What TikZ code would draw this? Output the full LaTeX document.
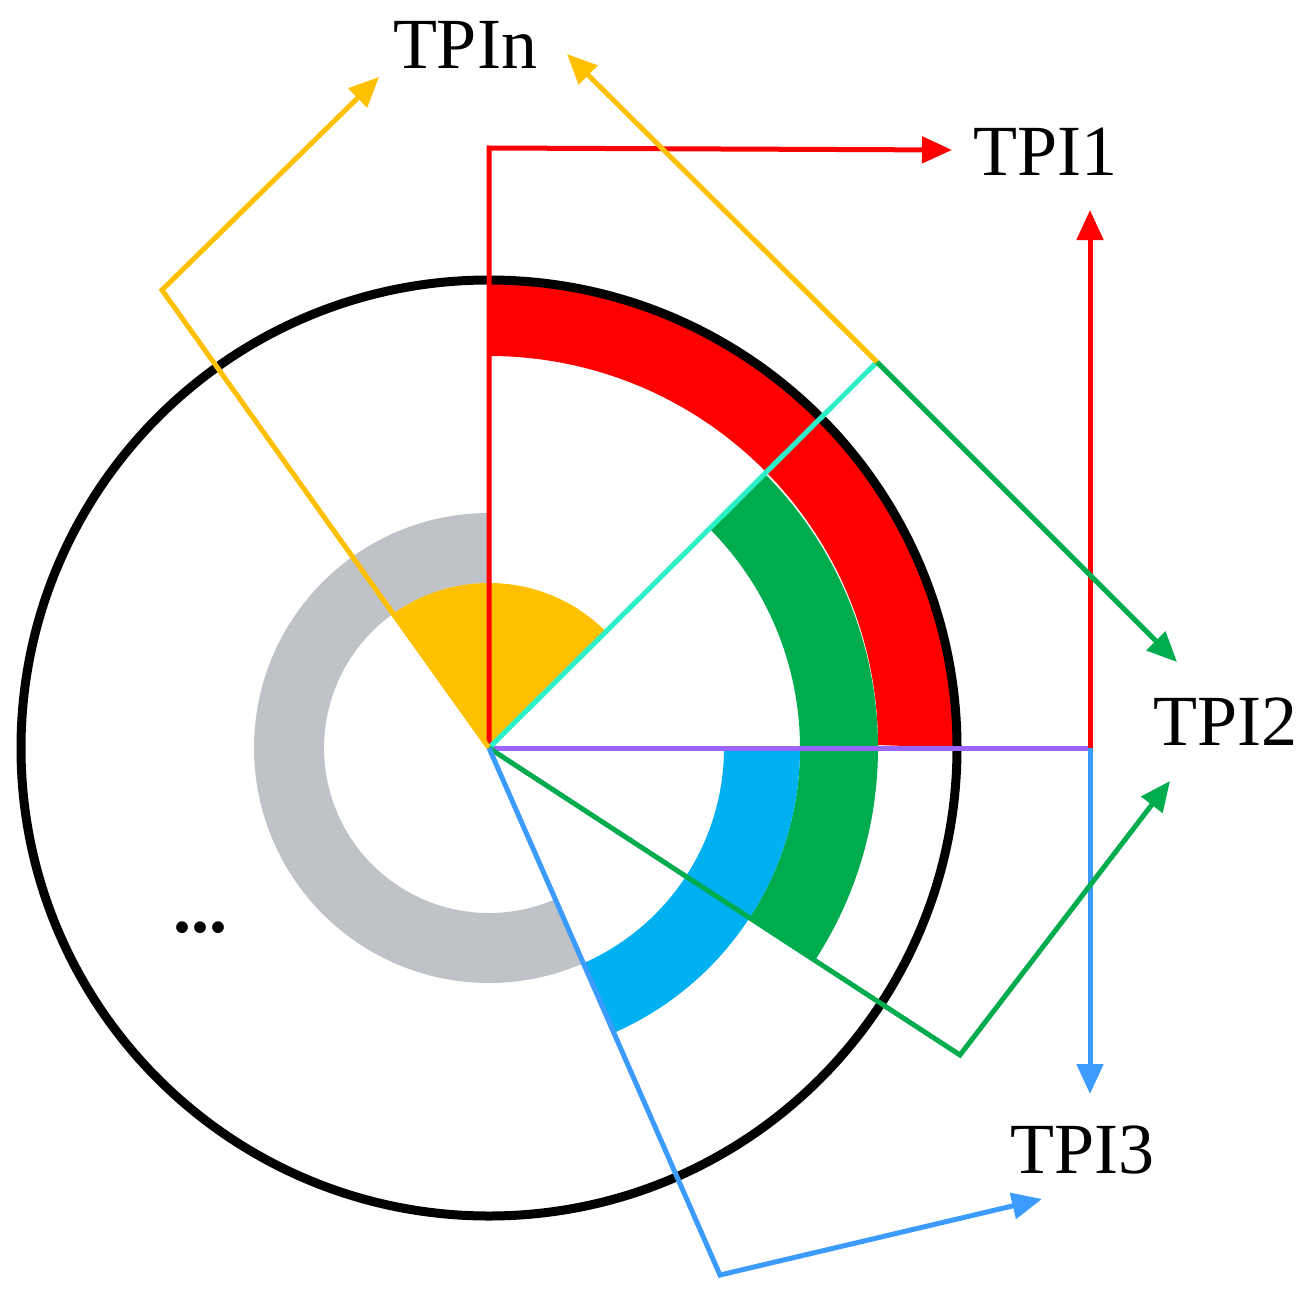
\documentclass[tikz,border=0pt]{standalone}
\usepackage{fontspec}
\setmainfont{Liberation Serif}
\usetikzlibrary{arrows.meta}
\definecolor{cred}{HTML}{FF0000}
\definecolor{cgreen}{HTML}{00AC4E}
\definecolor{cblue}{HTML}{00B0F0}
\definecolor{cgray}{HTML}{BFC2C6}
\definecolor{corange}{HTML}{FFC000}
\definecolor{ccyan}{HTML}{2EF0C8}
\definecolor{cpurple}{HTML}{9966FF}
\definecolor{clblue}{HTML}{3C9BFF}
\begin{document}
\begin{tikzpicture}[x=1pt,y=-1pt,
  wire/.style={line width=5pt},
  arr/.style={wire,-{Triangle[length=30pt,width=26pt]}},
  lbl/.style={font=\fontsize{72}{76}\selectfont,inner sep=0pt}]
\useasboundingbox (0,0) rectangle (1309,1300);
\coordinate (c) at (489,748);
\fill[cgray] (489,748) ++(-90:235) arc[start angle=-90,end angle=-294,radius=235] -- ++(-294:-70) arc[start angle=-294,end angle=-90,radius=165] -- cycle;
\fill[corange] (c) -- ++(-45:165) arc[start angle=-45,end angle=-125,radius=165] -- cycle;
\fill[cred] (c) ++(0:470) arc[start angle=0,end angle=-90,radius=470] -- ++(0,78) arc[start angle=-90,end angle=0,radius=389] -- cycle;
\fill[cgreen] (c) ++(-45:389) arc[start angle=-45,end angle=33,radius=389] -- ++(33:-78) arc[start angle=33,end angle=-45,radius=311] -- cycle;
\fill[cblue] (c) ++(0:311) arc[start angle=0,end angle=66,radius=311] -- ++(66:-76) arc[start angle=66,end angle=0,radius=235] -- cycle;
\draw[line width=9pt] (c) circle[radius=468];
\node[lbl] (tpin) at (465,45) {TPIn};
\node[lbl] (tpi1) at (1045,152) {TPI1};
\node[lbl] (tpi2) at (1225,722) {TPI2};
\node[lbl] (tpi3) at (1082,1150) {TPI3};
\node[lbl,font=\fontsize{72}{76}\selectfont\bfseries] (dots) at (200,928) {...};
\coordinate (r1) at (489,148);
\coordinate (r1e) at (952,150);
\coordinate (pv) at (1090,748);
\coordinate (pvu) at (1090,210);
\coordinate (pvd) at (1090,1094);
\coordinate (k) at (877,362);
\coordinate (ke1) at (567,54);
\coordinate (ke2) at (1177,662);
\coordinate (o1) at (162,290);
\coordinate (o1e) at (379,77);
\coordinate (g1) at (960,1055);
\coordinate (g1e) at (1170,781);
\coordinate (b1) at (720,1275);
\coordinate (b1e) at (1042,1199);
\draw[wire,cpurple] (c) -- (pv);
\draw[arr,cred] (pv) -- (pvu);
\draw[arr,clblue] (pv) -- (pvd);
\draw[arr,cred] (c) -- (r1) -- (r1e);
\draw[wire,ccyan] (c) -- (k);
\draw[arr,corange] (k) -- (ke1);
\draw[arr,cgreen] (k) -- (ke2);
\draw[arr,corange] (c) -- (o1) -- (o1e);
\draw[arr,cgreen] (c) -- (g1) -- (g1e);
\draw[arr,clblue] (c) -- (b1) -- (b1e);
\end{tikzpicture}
\end{document}
